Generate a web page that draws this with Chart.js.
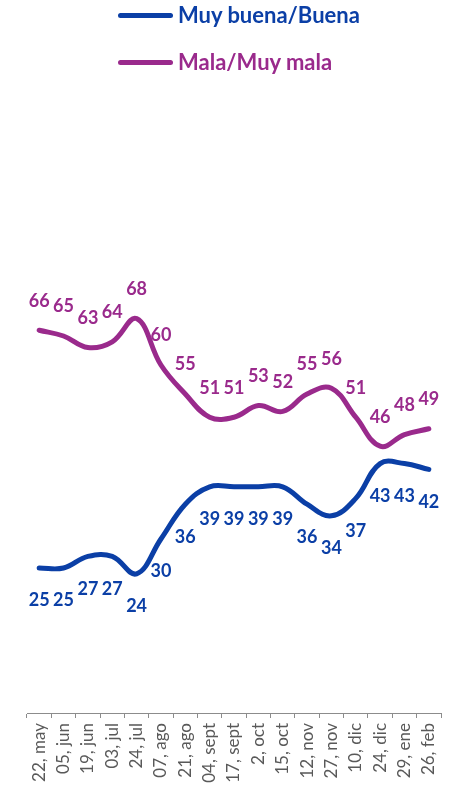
<!DOCTYPE html>
<html>
<head>
<meta charset="utf-8">
<script src="https://cdn.jsdelivr.net/npm/chart.js@4/dist/chart.umd.min.js"></script>
<style>
  html, body { margin: 0; padding: 0; background: #fff; overflow: hidden; }
  #wrap { position: relative; width: 462px; height: 787px; }
  canvas { position: absolute; left: 0; top: 0; }
  .leg { position: absolute; left: 118px; font-family: Lato, sans-serif; font-weight: bold; font-size: 22px; line-height: 22px; white-space: nowrap; }
  .leg .sw { position: absolute; left: 0; width: 55px; height: 5px; border-radius: 3px; }
  .leg .tx { position: absolute; left: 60px; }
</style>
</head>
<body>
<div id="wrap">
  <canvas id="c" width="462" height="787"></canvas>
  <div class="leg" id="leg1" style="top:4px;color:#0B3FA6"><div class="sw" style="top:9px;background:#0B3FA6"></div><div class="tx">Muy buena/Buena</div></div>
  <div class="leg" id="leg2" style="top:51px;color:#9A2A8C"><div class="sw" style="top:9px;background:#9A2A8C"></div><div class="tx">Mala/Muy mala</div></div>
</div>
<script>
const categories = ["22, may","05, jun","19, jun","03, jul","24, jul","07, ago","21, ago","04, sept","17, sept","2, oct","15, oct","12, nov","27, nov","10, dic","24, dic","29, ene","26, feb"];
const buenaValues = [25,25,27,27,24,30,36,39,39,39,39,36,34,37,43,43,42];
const malaValues = [66,65,63,64,68,60,55,51,51,53,52,55,56,51,46,48,49];
const seriesNames = ["Muy buena/Buena","Mala/Muy mala"];

const BLUE = '#0B3FA6';
const PURPLE = '#9A2A8C';

const labelPlugin = {
  id: 'valueLabels',
  afterDatasetsDraw(chart) {
    const ctx = chart.ctx;
    ctx.save();
    ctx.font = 'bold 18px Lato, sans-serif';
    ctx.textAlign = 'center';
    ctx.textBaseline = 'middle';
    chart.data.datasets.forEach((ds, di) => {
      const meta = chart.getDatasetMeta(di);
      ctx.fillStyle = ds.borderColor;
      meta.data.forEach((pt, i) => {
        const dy = di === 0 ? 32.5 : -29.5;
        ctx.fillText(String(ds.data[i]), pt.x, pt.y + dy);
      });
    });
    ctx.restore();
  }
};

new Chart(document.getElementById('c'), {
  type: 'line',
  data: {
    labels: categories,
    datasets: [
      { label: seriesNames[0], data: buenaValues, borderColor: BLUE, backgroundColor: BLUE, borderWidth: 5, pointRadius: 0, tension: 0.4, borderCapStyle: 'round', borderJoinStyle: 'round' },
      { label: seriesNames[1], data: malaValues, borderColor: PURPLE, backgroundColor: PURPLE, borderWidth: 5, pointRadius: 0, tension: 0.4, borderCapStyle: 'round', borderJoinStyle: 'round' }
    ]
  },
  options: {
    responsive: false,
    animation: false,
    layout: { padding: { left: 27, right: 21, top: 133, bottom: 0 } },
    plugins: { legend: { display: false }, tooltip: { enabled: false } },
    scales: {
      y: { display: false, min: 0, max: 100 },
      x: {
        offset: true,
        afterFit(scale) { scale.height = 74; },
        grid: { display: true, drawOnChartArea: false, drawTicks: true, tickLength: 5, color: '#8C8C8C', offset: true },
        border: { display: true, color: '#8C8C8C', width: 1 },
        ticks: { autoSkip: false, minRotation: 90, maxRotation: 90, padding: 5, color: '#595959', font: { family: 'Lato', size: 17 } }
      }
    }
  },
  plugins: [labelPlugin]
});
</script>
</body>
</html>
